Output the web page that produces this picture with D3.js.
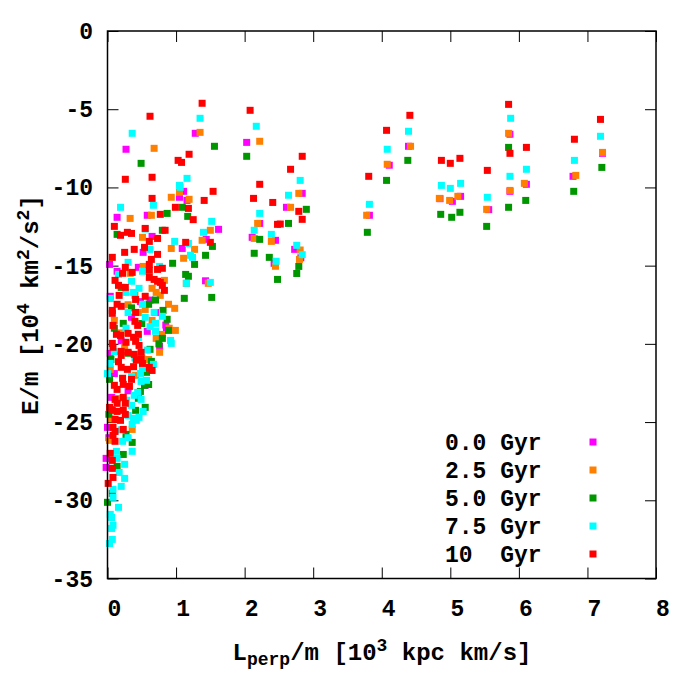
<!DOCTYPE html>
<html>
<head>
<meta charset="utf-8">
<script src="https://cdn.jsdelivr.net/npm/d3@7"></script>
<style>
  body { margin: 0; background: #fff; }
  text { font-family: "Liberation Mono", "DejaVu Sans Mono", monospace; font-weight: bold; }
</style>
</head>
<body>
<div id="chart"></div>
<script>
// series: [Lperp, E] pairs
const gyr00 = [
  [2.84,-10.38],[2.61,-11.27],[2.73,-13.96],[2.82,-14.5],[3.82,-11.78],[4.11,-8.58],[4.39,-7.37],
  [4.85,-10.72],[5.03,-10.89],[5.15,-10.57],[5.56,-11.42],[5.87,-6.6],[5.87,-10.25],[6.11,-9.8],
  [7.22,-7.82],[6.79,-9.29],[2.03,-7.12],[2.22,-12.3],[2.11,-13.19],[2.45,-13.38],[2.43,-14.85],
  [1.62,-12.68],[1.44,-13.32],[1.43,-15.97],[1.28,-6.54],[0.27,-7.56],[1.11,-10.25],[1.05,-10.63],
  [1.16,-10.83],[0.14,-11.91],[0.58,-11.78],[0.65,-13.13],[1.09,-13.9],[0.52,-14.15],[0.03,-14.92],
  [0.45,-15.11],[0.14,-15.36],[0.04,-16.96],[0.86,-19.07],[0.58,-19.2],[0.76,-20.16],[0.04,-20.61],
  [0.55,-22.65],[0.06,-23.42],[0.0,-25.34],[-0.02,-27.32],[-0.02,-27.9],[0.35,-18.3],[0.2,-19.8],
  [0.62,-17.2],[0.1,-21.9],[0.3,-23.0],[0.05,-24.2],[0.02,-26.0],[0.7,-18.0],[0.48,-17.3],[0.85,-18.8]
];
const gyr25 = [
  [2.79,-10.38],[2.67,-11.27],[2.81,-14.0],[2.80,-14.6],[3.78,-11.78],[4.08,-8.52],[4.42,-7.37],
  [4.84,-10.7],[4.99,-10.83],[5.11,-10.57],[5.53,-11.4],[5.85,-6.54],[5.87,-10.19],[6.08,-9.74],
  [7.22,-7.76],[6.83,-9.23],[2.22,-7.05],[2.19,-12.3],[2.14,-13.26],[2.39,-13.45],[2.45,-15.04],
  [1.35,-6.48],[0.68,-7.5],[1.05,-10.31],[0.93,-10.63],[1.19,-10.76],[1.50,-12.74],[1.38,-13.38],
  [1.47,-16.13],[0.33,-11.98],[0.64,-11.78],[0.51,-13.19],[0.93,-13.9],[1.27,-13.96],[1.11,-14.53],
  [0.52,-15.05],[0.33,-15.49],[0.83,-15.94],[1.15,-16.13],[0.65,-16.45],[0.71,-16.71],[0.77,-16.9],
  [0.89,-17.47],[0.98,-17.73],[0.99,-19.14],[0.71,-19.65],[0.76,-20.54],[0.04,-21.63],[0.41,-22.01],
  [0.36,-25.47],[0.03,-26.17],[0.1,-18.5],[0.25,-20.2],[0.45,-18.0],[0.6,-21.0],[0.15,-23.5],
  [0.05,-24.8],[0.2,-19.3],[0.9,-19.0],[0.3,-17.5],[0.55,-17.8],[0.65,-18.5],[0.8,-19.4],
  [0.4,-16.9],[0.5,-20.9]
];
const gyr50 = [
  [2.90,-11.4],[2.64,-12.3],[2.79,-15.05],[2.76,-15.5],[3.79,-12.87],[4.07,-9.55],[4.38,-8.27],
  [4.86,-11.72],[5.02,-11.91],[5.14,-11.59],[5.53,-12.49],[5.85,-7.44],[5.85,-11.27],[6.10,-10.83],
  [7.21,-8.72],[6.80,-10.25],[2.03,-8.01],[2.22,-13.32],[2.14,-14.21],[2.36,-14.47],[2.48,-15.88],
  [1.56,-7.37],[0.49,-8.46],[1.09,-11.27],[1.53,-13.77],[1.43,-14.34],[1.52,-17.03],[0.87,-11.66],
  [1.17,-11.85],[0.14,-13.0],[0.80,-12.74],[0.95,-14.85],[1.27,-14.92],[1.14,-15.56],[1.18,-15.68],
  [0.20,-16.39],[1.12,-17.09],[0.60,-17.47],[0.81,-17.86],[0.23,-18.69],[0.87,-18.43],[0.89,-19.14],
  [0.80,-19.65],[0.62,-20.35],[0.64,-21.12],[0.03,-22.27],[0.57,-21.82],[0.54,-22.65],[0.48,-23.04],
  [0.45,-23.48],[0.41,-24.25],[0.55,-24.06],[0.27,-25.79],[0.36,-26.3],[0.23,-27.07],[0.14,-27.83],
  [0.07,-29.56],[0.0,-30.13],[0.05,-21.0],[0.3,-20.6],[0.02,-24.5],[0.1,-19.0],[0.7,-17.2],
  [0.5,-18.7],[0.75,-20.0],[0.6,-22.6],[0.35,-17.7]
];
const gyr75 = [
  [2.81,-9.55],[2.64,-10.5],[2.76,-13.7],[2.84,-14.3],[3.82,-11.08],[4.08,-7.56],[4.39,-6.41],
  [4.87,-9.87],[5.00,-10.06],[5.15,-9.74],[5.54,-10.63],[5.88,-5.58],[5.87,-9.29],[6.11,-8.84],
  [7.19,-6.73],[6.81,-8.27],[2.17,-6.09],[2.22,-11.66],[2.14,-12.74],[2.39,-13.0],[2.46,-14.72],
  [1.35,-5.58],[0.36,-6.54],[1.16,-9.42],[1.05,-9.87],[1.06,-9.99],[0.19,-11.27],[0.67,-11.14],
  [1.52,-12.17],[1.40,-12.87],[1.50,-16.07],[0.55,-12.66],[0.98,-13.45],[1.18,-13.58],[0.62,-13.96],
  [1.21,-14.34],[1.24,-14.47],[0.30,-14.79],[0.76,-15.05],[0.51,-15.36],[0.16,-15.56],[0.35,-16.0],
  [1.15,-16.13],[0.27,-16.71],[0.38,-16.71],[0.46,-16.45],[0.04,-17.1],[0.51,-17.47],[0.68,-17.99],
  [0.80,-18.24],[0.70,-18.69],[0.70,-19.2],[0.92,-19.78],[0.93,-19.97],[0.67,-21.31],[0.04,-21.25],
  [0.48,-21.89],[0.51,-21.57],[0.35,-22.08],[0.49,-22.4],[0.57,-22.33],[0.39,-23.29],[0.49,-23.55],
  [0.35,-23.93],[0.52,-24.32],[0.30,-24.57],[0.38,-24.76],[0.42,-24.89],[0.46,-24.7],[0.36,-25.15],
  [0.22,-26.23],[0.36,-26.87],[0.13,-26.87],[0.14,-27.32],[0.25,-27.7],[0.17,-28.22],[0.25,-28.6],
  [0.20,-29.11],[0.08,-29.3],[0.08,-29.81],[0.16,-30.45],[0.04,-30.9],[0.06,-31.1],[0.08,-31.6],
  [0.06,-31.8],[0.07,-32.5],[0.03,-32.76],[0.28,-23.6],[0.44,-23.1],[0.2,-25.5],[0.3,-26.0],
  [0.1,-20.5],[0.0,-21.9],[0.27,-19.0],[0.4,-20.9],[0.55,-18.3],[0.62,-18.9],[0.45,-19.6],
  [0.58,-20.4],[0.3,-18.0]
];
const gyr10 = [
  [2.84,-8.01],[2.67,-8.84],[2.79,-11.53],[2.84,-12.04],[2.52,-12.34],[3.81,-9.29],[4.07,-6.35],
  [4.41,-5.39],[4.87,-8.27],[5.00,-8.46],[5.14,-8.14],[5.54,-8.91],[5.85,-4.69],[5.87,-7.82],
  [6.11,-7.44],[7.19,-5.65],[6.81,-6.92],[2.08,-5.07],[2.22,-9.80],[2.13,-10.7],[2.41,-10.96],
  [2.48,-12.36],[1.38,-4.62],[0.62,-5.45],[1.19,-7.88],[1.03,-8.27],[1.08,-8.4],[0.26,-9.48],
  [0.65,-9.35],[1.54,-10.25],[0.65,-10.7],[1.41,-10.83],[0.99,-11.27],[1.18,-11.34],[1.50,-13.51],
  [0.77,-11.72],[1.25,-12.06],[0.10,-12.49],[0.19,-13.06],[0.29,-12.87],[0.35,-12.94],[0.55,-12.62],
  [0.84,-12.74],[0.73,-13.26],[0.61,-13.45],[0.54,-13.83],[1.14,-13.51],[0.39,-13.96],[0.25,-14.15],
  [0.73,-14.28],[0.07,-14.47],[0.64,-14.6],[0.61,-14.92],[0.26,-15.11],[0.80,-15.17],[0.73,-15.24],
  [0.61,-15.3],[0.22,-15.49],[0.36,-15.43],[0.61,-15.75],[0.68,-15.88],[0.73,-16.0],[0.77,-16.07],
  [0.80,-16.26],[0.83,-16.58],[0.26,-16.39],[0.11,-15.94],[0.16,-16.26],[0.17,-16.9],[0.55,-16.96],
  [0.41,-17.16],[0.14,-17.47],[0.20,-17.6],[0.07,-17.86],[0.41,-17.99],[0.07,-18.05],[0.40,-18.56],
  [0.08,-18.82],[0.44,-18.82],[0.13,-19.39],[0.19,-19.46],[0.30,-19.33],[0.38,-19.58],[0.45,-19.39],
  [0.27,-19.9],[0.41,-19.84],[0.46,-20.1],[0.07,-19.97],[0.08,-20.22],[0.20,-20.48],[0.49,-20.54],
  [0.20,-20.74],[0.30,-20.54],[0.39,-20.67],[0.42,-21.04],[0.38,-21.46],[0.29,-21.63],[0.20,-21.5],
  [0.16,-21.14],[0.49,-20.99],[0.51,-21.25],[0.61,-21.5],[0.65,-21.7],[0.22,-22.2],[0.35,-22.27],
  [0.10,-22.65],[0.14,-22.91],[0.23,-22.59],[0.32,-22.72],[0.23,-23.42],[0.26,-23.8],[0.11,-23.55],
  [0.14,-23.8],[0.03,-24.06],[0.07,-24.25],[0.14,-24.32],[0.23,-24.25],[0.26,-24.51],[0.11,-24.83],
  [0.19,-24.89],[0.08,-25.34],[0.11,-25.6],[0.23,-25.47],[0.08,-25.85],[0.11,-26.23],[0.04,-27.0],
  [0.07,-27.45],[0.07,-27.96],[0.08,-28.54],[0.01,-28.92]
];

const seriesNames = ["0.0 Gyr", "2.5 Gyr", "5.0 Gyr", "7.5 Gyr", "10  Gyr"];
const seriesColors = ["#ff00ff", "#ff8000", "#009600", "#00ffff", "#ff0000"];
const seriesData = [gyr00, gyr25, gyr50, gyr75, gyr10];
const xTicks = [0, 1, 2, 3, 4, 5, 6, 7, 8];
const yTicks = [0, -5, -10, -15, -20, -25, -30, -35];

const W = 700, H = 700;
const plotL = 107.5, plotT = 31, plotR = 656, plotB = 578.5;
const tick = 11, pt = 7;

const svg = d3.select("#chart").append("svg").attr("width", W).attr("height", H);

const x = d3.scaleLinear().domain([0, 8]).range([plotL, plotR]);
const y = d3.scaleLinear().domain([-35, 0]).range([plotB, plotT]);

// ticks (inward, mirrored on all sides)
function ticks(g) {
  g.select(".domain").remove();
  g.selectAll(".tick line").attr("stroke", "#000").attr("stroke-width", 1);
}
svg.append("g").attr("transform", `translate(0,${plotB})`)
  .call(d3.axisBottom(x).tickValues(xTicks).tickSize(-tick).tickFormat(""))
  .call(ticks);
svg.append("g").attr("transform", `translate(0,${plotT})`)
  .call(d3.axisTop(x).tickValues(xTicks).tickSize(-tick).tickFormat(""))
  .call(ticks);
svg.append("g").attr("transform", `translate(${plotL},0)`)
  .call(d3.axisLeft(y).tickValues(yTicks).tickSize(-tick).tickFormat(""))
  .call(ticks);
svg.append("g").attr("transform", `translate(${plotR},0)`)
  .call(d3.axisRight(y).tickValues(yTicks).tickSize(-tick).tickFormat(""))
  .call(ticks);

// tick labels
svg.append("g").selectAll("text").data(xTicks).enter().append("text")
  .attr("x", d => x(d) + 7).attr("y", 616)
  .attr("text-anchor", "middle").attr("font-size", 23)
  .text(d => String(d));
svg.append("g").selectAll("text").data(yTicks).enter().append("text")
  .attr("x", 93).attr("y", d => y(d) + 8)
  .attr("text-anchor", "end").attr("font-size", 23)
  .text(d => String(d));

// points, oldest first so 10 Gyr is on top
seriesData.forEach((data, i) => {
  svg.append("g").selectAll("rect").data(data).enter().append("rect")
    .attr("x", d => x(d[0]) - pt / 2).attr("y", d => y(d[1]) - pt / 2)
    .attr("width", pt).attr("height", pt)
    .attr("fill", seriesColors[i]);
});

// border
svg.append("rect").attr("x", plotL).attr("y", plotT)
  .attr("width", plotR - plotL).attr("height", plotB - plotT)
  .attr("fill", "none").attr("stroke", "#000").attr("stroke-width", 1.5);

// legend
const leg = svg.append("g");
seriesNames.forEach((name, i) => {
  const ly = 442 + i * 28;
  leg.append("text").attr("x", 445).attr("y", ly + 8)
    .attr("font-size", 23).style("white-space", "pre").text(name);
  leg.append("rect").attr("x", 593 - pt / 2).attr("y", ly - pt / 2)
    .attr("width", pt).attr("height", pt).attr("fill", seriesColors[i]);
});

// axis labels
const xl = svg.append("text").attr("x", 382).attr("y", 660)
  .attr("text-anchor", "middle").attr("font-size", 24);
xl.append("tspan").text("L");
xl.append("tspan").attr("font-size", 18).attr("dy", 5).text("perp");
xl.append("tspan").attr("dy", -5).text("/m [10");
xl.append("tspan").attr("font-size", 18).attr("dy", -9).text("3");
xl.append("tspan").attr("dy", 9).text(" kpc km/s]");

const yl = svg.append("text").attr("transform", "translate(38,305) rotate(-90)")
  .attr("text-anchor", "middle").attr("font-size", 24);
yl.append("tspan").text("E/m [10");
yl.append("tspan").attr("font-size", 18).attr("dy", -9).text("4");
yl.append("tspan").attr("dy", 9).text(" km");
yl.append("tspan").attr("font-size", 18).attr("dy", -9).text("2");
yl.append("tspan").attr("dy", 9).text("/s");
yl.append("tspan").attr("font-size", 18).attr("dy", -9).text("2");
yl.append("tspan").attr("dy", 9).text("]");
</script>
</body>
</html>
